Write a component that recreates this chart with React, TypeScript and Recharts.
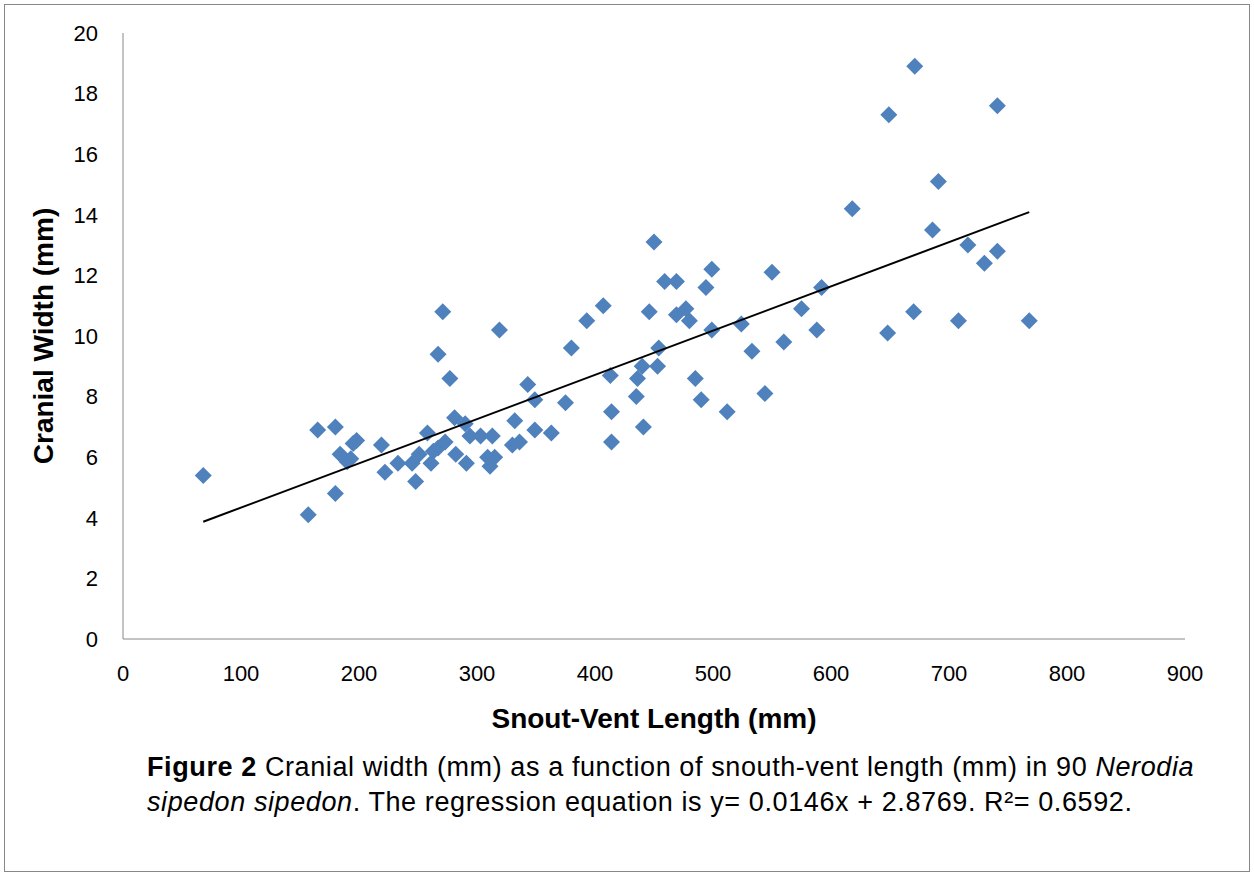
import React from 'react';
import { ScatterChart, Scatter, XAxis, YAxis, Label } from 'recharts';

// snout-vent length (mm) and cranial width (mm)
const svl = [
  68, 157, 165, 180, 180, 184, 190, 193, 195, 198, 219, 222, 233, 245, 248, 251, 258, 261, 263, 267,
  267, 271, 273, 277, 281, 282, 290, 291, 294, 303, 309, 311, 313, 315, 319, 330, 332, 336, 343, 349,
  349, 363, 375, 380, 393, 407, 413, 414, 414, 435, 436, 440, 441, 446, 450, 453, 454, 459, 469, 469,
  477, 480, 485, 490, 494, 499, 499, 512, 524, 533, 544, 550, 560, 575, 588, 592, 618, 648, 649, 670,
  671, 686, 691, 708, 716, 730, 741, 741, 768,
];
const cranialWidth = [
  5.4, 4.1, 6.9, 7.0, 4.8, 6.1, 5.85, 5.95, 6.45, 6.55, 6.4, 5.5, 5.8, 5.8, 5.2, 6.1, 6.8, 5.8, 6.2, 6.3,
  9.4, 10.8, 6.5, 8.6, 7.3, 6.1, 7.1, 5.8, 6.7, 6.7, 6.0, 5.7, 6.7, 6.0, 10.2, 6.4, 7.2, 6.5, 8.4, 7.9,
  6.9, 6.8, 7.8, 9.6, 10.5, 11.0, 8.7, 7.5, 6.5, 8.0, 8.6, 9.0, 7.0, 10.8, 13.1, 9.0, 9.6, 11.8, 11.8, 10.7,
  10.9, 10.5, 8.6, 7.9, 11.6, 12.2, 10.2, 7.5, 10.4, 9.5, 8.1, 12.1, 9.8, 10.9, 10.2, 11.6, 14.2, 10.1, 17.3, 10.8,
  18.9, 13.5, 15.1, 10.5, 13.0, 12.4, 12.8, 17.6, 10.5,
];

// trendline end points
const trendX = [68, 768];
const trendY = [3.87, 14.09];

const xTicks = [0, 100, 200, 300, 400, 500, 600, 700, 800, 900];
const yTicks = [0, 2, 4, 6, 8, 10, 12, 14, 16, 18, 20];

const points = svl.map((x, i) => ({ x, y: cranialWidth[i] }));
const trend = trendX.map((x, i) => ({ x, y: trendY[i] }));

const FONT = "'Liberation Sans', Arial, sans-serif";

function Diamond(props: any) {
  const { cx, cy } = props;
  if (cx == null || cy == null) return <g />;
  const r = 8.5;
  return (
    <path
      d={`M${cx},${cy - r}L${cx + r},${cy}L${cx},${cy + r}L${cx - r},${cy}Z`}
      fill="#4F81BD"
    />
  );
}

export default function App() {
  return (
    <div style={{ position: 'absolute', left: 0, top: 0, width: 1254, height: 876, background: '#fff', fontFamily: FONT }}>
      <div
        style={{
          position: 'absolute',
          left: 4,
          top: 4,
          width: 1244,
          height: 866,
          border: '1px solid #888',
        }}
      />
      <div style={{ position: 'absolute', left: 0, top: 0 }}>
        <ScatterChart width={1254} height={876} margin={{ top: 33, right: 69, left: 0, bottom: 137 }}>
          <XAxis
            type="number"
            dataKey="x"
            domain={[0, 900]}
            ticks={xTicks}
            interval={0}
            height={100}
            tickLine={false}
            tickSize={0}
            tickMargin={26}
            stroke="#888"
            tick={{ fill: '#000', fontSize: 22, fontFamily: FONT }}
          >
            <Label
              content={({ viewBox }: any) => (
                <text
                  x={viewBox.x + viewBox.width / 2}
                  y={viewBox.y + 89}
                  textAnchor="middle"
                  fontSize={28}
                  fontWeight="bold"
                  fontFamily={FONT}
                  fill="#000"
                >
                  Snout-Vent Length (mm)
                </text>
              )}
            />
          </XAxis>
          <YAxis
            type="number"
            dataKey="y"
            domain={[0, 20]}
            ticks={yTicks}
            interval={0}
            width={123}
            tickLine={false}
            tickSize={0}
            tickMargin={25}
            stroke="#888"
            tick={{ fill: '#000', fontSize: 22, fontFamily: FONT }}
          >
            <Label
              content={({ viewBox }: any) => {
                const cx = 53;
                const cy = viewBox.y + viewBox.height / 2;
                return (
                  <text
                    x={cx}
                    y={cy}
                    transform={`rotate(-90 ${cx} ${cy})`}
                    textAnchor="middle"
                    fontSize={28}
                    fontWeight="bold"
                    fontFamily={FONT}
                    fill="#000"
                  >
                    Cranial Width (mm)
                  </text>
                );
              }}
            />
          </YAxis>
          <Scatter data={points} shape={Diamond} isAnimationActive={false} />
          <Scatter
            data={trend}
            line={{ stroke: '#000', strokeWidth: 2 }}
            shape={() => <g />}
            isAnimationActive={false}
          />
        </ScatterChart>
      </div>
      <div
        style={{
          position: 'absolute',
          left: 147,
          top: 750,
          fontSize: 27,
          lineHeight: '35px',
          letterSpacing: '0.6px',
          color: '#000',
          whiteSpace: 'nowrap',
        }}
      >
        <b>Figure 2</b> Cranial width (mm) as a function of snouth-vent length (mm) in 90 <i>Nerodia</i>
        <br />
        <i>sipedon sipedon</i>. The regression equation is y= 0.0146x + 2.8769. R²= 0.6592.
      </div>
    </div>
  );
}
